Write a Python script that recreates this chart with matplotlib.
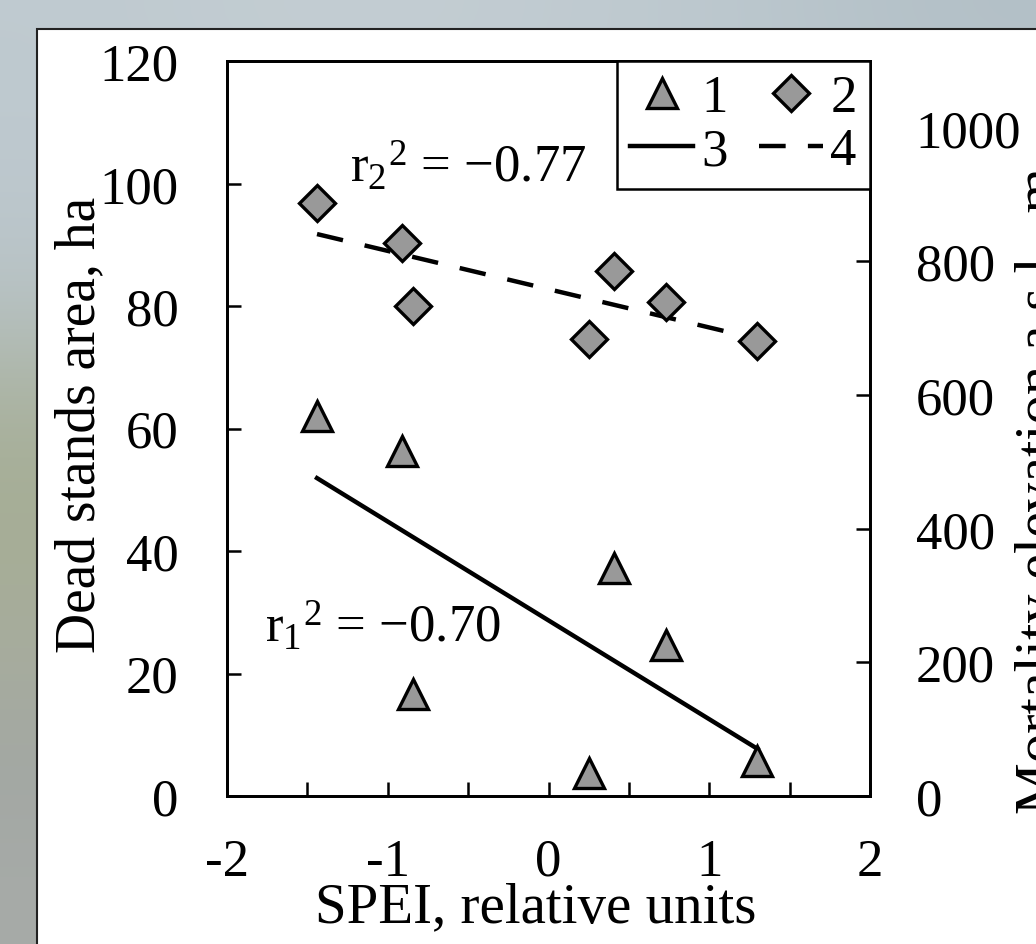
import numpy as np
import matplotlib
matplotlib.use('Agg')
import matplotlib.pyplot as plt
from matplotlib.patches import Rectangle

plt.rcParams['font.family'] = ['Liberation Serif', 'DejaVu Serif']
plt.rcParams['mathtext.fontset'] = 'custom'
plt.rcParams['mathtext.rm'] = 'Liberation Serif'
plt.rcParams['mathtext.it'] = 'Liberation Serif:italic'

# SPEI of the seven observations
spei = [-1.44, -0.91, -0.84, 0.25, 0.41, 0.73, 1.30]
# 1 - dead stands area, ha (left axis)
area = [62.1, 56.3, 16.6, 3.7, 37.2, 24.7, 5.7]
# 2 - mortality elevation a.s.l., m (right axis)
elev = [888, 827, 734, 684, 785, 740, 681]
# 3, 4 - linear trends (end points)
trend_x = [-1.44, 1.30]
trend_area = [51.9, 7.7]
trend_elev = [841, 684]

xtick_vals = np.arange(-2, 2.01, 0.5)
xtick_text = ['-2', '', '-1', '', '0', '', '1', '', '2']
ytick_left = [0, 20, 40, 60, 80, 100, 120]
ytick_right = [0, 200, 400, 600, 800, 1000]

W, H = 1036, 945
fig = plt.figure(figsize=(W / 100, H / 100), dpi=100)

# blurred photo background behind the slide
bg = fig.add_axes([0, 0, 1, 1])
bg.axis('off')
left_col = ['#bfcad0', '#bdc8ce', '#b8c3c6', '#a9b19d', '#a5ad94', '#a8ad9e', '#a2a7a3', '#a7aba8']
top_row = ['#bfcad0', '#c4ced3', '#c2ccd2', '#bcc8ce', '#b3c0c7']
grid = np.zeros((len(left_col), len(top_row), 3))
for i, c in enumerate(left_col):
    for j, t in enumerate(top_row):
        grid[i, j] = matplotlib.colors.to_rgb(t if i == 0 else c)
bg.imshow(grid, aspect='auto', interpolation='bicubic', extent=[0, 1, 0, 1])
bg.set_xlim(0, 1)
bg.set_ylim(0, 1)
bg.add_patch(Rectangle((37 / W, -0.01), 1.0, (H - 30) / H + 0.01,
                       facecolor='white', edgecolor='#222222', lw=1.5))

ax = fig.add_axes([227 / W, 148 / H, 643 / W, 735 / H])
ax.set_facecolor('white')
ax.set_xlim(-2, 2)
ax.set_ylim(0, 120)
ax2 = ax.twinx()
ax2.set_ylim(0, 1100)

h1, = ax.plot(spei, area, ls='none', marker='^', ms=22, mfc='#999999',
              mec='black', mew=2.4, label='1', clip_on=False, zorder=3)
h3, = ax.plot(trend_x, trend_area, color='black', lw=3.2, label='3')
h2, = ax2.plot(spei, elev, ls='none', marker='D', ms=18, mfc='#999999',
               mec='black', mew=2.4, label='2', zorder=3)
h4, = ax2.plot(trend_x, trend_elev, color='black', lw=3.2, ls=(0, (6, 5)), label='4')

ax.set_xticks(xtick_vals)
ax.set_xticklabels(xtick_text)
ax.set_yticks(ytick_left)
ax2.set_yticks(ytick_right)
ax.tick_params(axis='x', direction='in', length=10, width=1.8, pad=30, labelsize=38, top=False)
ax.tick_params(axis='y', direction='in', length=10, width=1.8, pad=35, labelsize=38, right=False)
ax2.tick_params(axis='y', direction='in', length=10, width=1.8, pad=33, labelsize=38)
for a in (ax, ax2):
    for s in a.spines.values():
        s.set_linewidth(2)

ax.text(-1.237, 100.4, r'$\mathregular{r_2{}^2}$ = −0.77', fontsize=38, va='baseline')
ax.text(-1.764, 25.3, r'$\mathregular{r_1{}^2}$ = −0.70', fontsize=38, va='baseline')

leg = ax2.legend([h1, h3, h2, h4], ['1', '3', '2', '4'], ncol=2, loc='upper right',
                 borderaxespad=0, fancybox=False, edgecolor='black', framealpha=1,
                 fontsize=38, handlelength=1.2, handletextpad=0.15, columnspacing=0.6,
                 borderpad=0.25, labelspacing=0.1)
leg.get_frame().set_linewidth(1.8)

fig.text(80 / W, 1 - 425 / H, 'Dead stands area, ha', rotation=90,
         ha='center', va='center', fontsize=40)
fig.text(536 / W, 1 - 908 / H, 'SPEI, relative units', ha='center', va='center', fontsize=41)
fig.text(1041 / W, 1 - 491 / H, 'Mortality elevation a.s.l., m', rotation=90,
         ha='center', va='center', fontsize=42)

fig.savefig('out.png', dpi=100)
